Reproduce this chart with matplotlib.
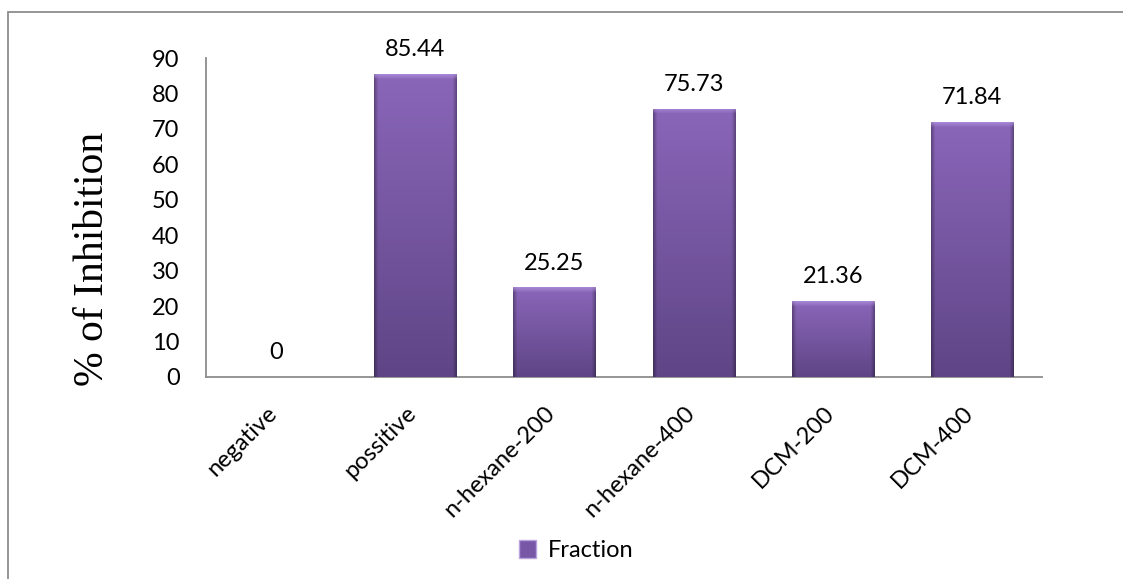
import numpy as np
import matplotlib.pyplot as plt
import matplotlib.transforms as mtransforms
from matplotlib.patches import Patch, Rectangle
from matplotlib.colors import to_rgb

categories = ["negative", "possitive", "n-hexane-200", "n-hexane-400", "DCM-200", "DCM-400"]
inhibition = [0, 85.44, 25.25, 75.73, 21.36, 71.84]
yticks = [0, 10, 20, 30, 40, 50, 60, 70, 80, 90]
series_name = "Fraction"

plt.rcParams["font.family"] = ["Lato", "DejaVu Sans"]

fig = plt.figure(figsize=(11.23, 5.79), dpi=100)
ax = fig.add_axes([0.1834, 0.3489, 0.7445, 0.5509])

x = np.arange(len(categories))
bars = ax.bar(x, inhibition, width=0.59, color="#7554a0", edgecolor="none", zorder=2)

# excel-style bevelled gradient for each bar
top_c = np.array(to_rgb("#8a66b9"))
bot_c = np.array(to_rgb("#5f4586"))
hi_c = np.array(to_rgb("#b294e0"))
px_per_unit = 319 / 90
for b in bars:
    h = b.get_height()
    if h <= 0:
        continue
    nrows = max(int(h * px_per_unit), 2)
    ncols = 82
    t = np.linspace(0, 1, nrows)[:, None, None]  # 0 top, 1 bottom
    img = top_c * (1 - t) + bot_c * t
    img = np.repeat(img, ncols, axis=1)
    edge = np.ones(ncols)
    edge[:4] = [0.70, 0.78, 0.86, 0.93]
    edge[-4:] = [0.93, 0.86, 0.78, 0.70]
    img = img * edge[None, :, None]
    for r in range(min(5, nrows)):
        w = 1 - r / 5
        img[r] = img[r] * (1 - 0.7 * w) + hi_c * 0.7 * w
    im = ax.imshow(img, extent=(b.get_x(), b.get_x() + b.get_width(), 0, h),
                   aspect="auto", origin="upper", zorder=3, interpolation="bilinear")
    im.set_clip_path(b)

ax.bar_label(bars, labels=[f"{v:g}" for v in inhibition], padding=10, fontsize=17, zorder=4)

ax.set_xlim(-0.5, len(categories) - 0.5)
ax.set_ylim(0, 90)
ax.set_yticks(yticks)
ax.set_xticks(x)
ax.set_xticklabels(categories, rotation=45, ha="right", fontsize=17)
ax.tick_params(axis="y", length=0, pad=19, labelsize=17)
ax.tick_params(axis="x", length=0, pad=18)
shift = mtransforms.ScaledTranslation(5 / 100, 0, fig.dpi_scale_trans)
for lbl in ax.get_xticklabels():
    lbl.set_transform(lbl.get_transform() + shift)

for side in ["top", "right"]:
    ax.spines[side].set_visible(False)
for side in ["left", "bottom"]:
    ax.spines[side].set_color("#8c8c8c")
    ax.spines[side].set_linewidth(1.3)

ax.set_ylabel("% of Inhibition", family=["Liberation Serif", "DejaVu Serif"], fontsize=30, va="center")
ax.yaxis.set_label_coords(-0.136, 0.37)

handle = Patch(facecolor="#7858a6", edgecolor="#b9a3dc", linewidth=1.0)
fig.legend([handle], [series_name], loc="center", bbox_to_anchor=(0.513, 0.049),
           frameon=False, fontsize=17, handlelength=0.75, handleheight=0.75, handletextpad=0.5)

fig.add_artist(Rectangle((8 / 1123, -0.05), 1.2, 1.05 - 12 / 579, transform=fig.transFigure,
                         fill=False, edgecolor="#8c8c8c", linewidth=1.3, clip_on=False))

fig.savefig("out.png", dpi=100)
